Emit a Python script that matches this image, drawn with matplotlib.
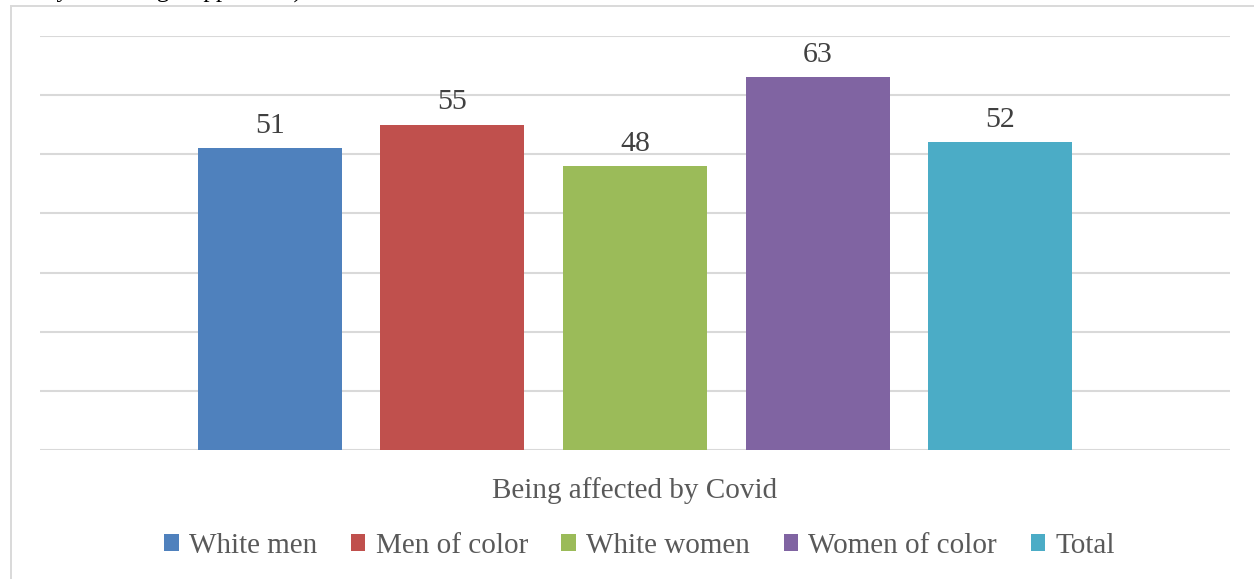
import matplotlib
matplotlib.use("Agg")
import matplotlib.pyplot as plt
from matplotlib.patches import Rectangle

# Data
groups = ["White men", "Men of color", "White women", "Women of color", "Total"]
values = [51, 55, 48, 63, 52]
colors = ["#4F81BD", "#C0504D", "#9BBB59", "#8064A2", "#4BACC6"]
category = "Being affected by Covid"
caption_tail = "Survey of College Applicants)"

W, H, DPI = 1254, 579, 100
plt.rcParams["font.family"] = ["Liberation Serif", "DejaVu Serif"]

fig = plt.figure(figsize=(W / DPI, H / DPI), dpi=DPI)
fig.patch.set_facecolor("white")

# Outer chart frame (only the left and top edges fall inside the canvas)
frame = Rectangle((11 / W, -0.2), 1.5, 1.2 - 6 / H, transform=fig.transFigure,
                  facecolor="none", edgecolor="#D9D9D9", linewidth=1.4, zorder=0)
fig.patches.append(frame)

# Tail of the caption line sitting above the chart
fig.text(-2 / W, 1 + 2 / H, caption_tail, fontsize=18, color="#000000",
         ha="left", va="baseline")

ax = fig.add_axes([40 / W, 1 - 450 / H, 1190 / W, 414 / H])
ax.set_facecolor("none")

x = list(range(len(groups)))
bars = ax.bar(x, values, width=0.789, color=colors, zorder=3)

ax.set_xlim(-1.26, 5.26)
ax.set_ylim(0, 70)
ax.set_yticks(range(0, 71, 10))
ax.yaxis.grid(True, color="#D9D9D9", linewidth=1.5, zorder=0)
ax.tick_params(axis="y", left=False, labelleft=False)
for s in ax.spines.values():
    s.set_visible(False)

# Category label under the bar group
ax.set_xticks([2])
ax.set_xticklabels([category], fontsize=21, color="#595959")
ax.tick_params(axis="x", bottom=False, pad=16)

# Value labels above bars
for xi, v in zip(x, values):
    ax.annotate(str(v), (xi, v), xytext=(0, 11), textcoords="offset points",
                ha="center", va="baseline", fontsize=21.5, color="#404040")

leg = fig.legend(handles=list(bars), labels=groups, loc="center",
                 bbox_to_anchor=(639.5 / W, 1 - 546 / H), ncol=5, frameon=False,
                 fontsize=21, handlelength=0.5, handleheight=0.5,
                 handletextpad=0.35, columnspacing=1.15, borderaxespad=0)
for t in leg.get_texts():
    t.set_color("#595959")

fig.savefig("out.png", dpi=DPI, facecolor="white")
